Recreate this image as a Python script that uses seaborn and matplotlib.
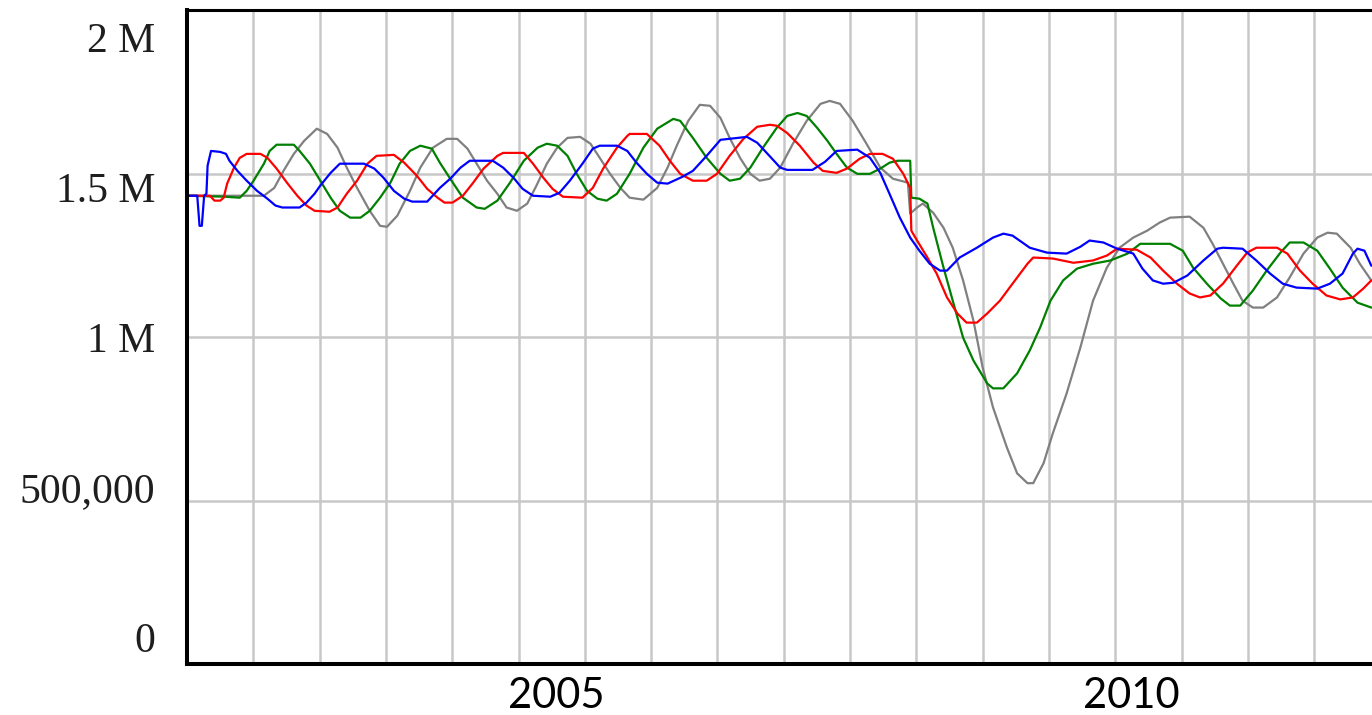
import numpy as np
import pandas as pd
import seaborn as sns
import matplotlib.pyplot as plt

# values: time in years, values in millions
blue_t = [2001.79, 2001.88, 2001.89, 2001.90, 2001.92, 2001.94, 2001.96, 2001.97, 2002.00, 2002.08,
          2002.13, 2002.16, 2002.23, 2002.31, 2002.40, 2002.49, 2002.56, 2002.62, 2002.77, 2002.83,
          2002.90, 2002.95, 2003.04, 2003.12, 2003.33, 2003.42, 2003.50, 2003.59, 2003.68, 2003.75,
          2003.88, 2003.99, 2004.08, 2004.17, 2004.25, 2004.45, 2004.54, 2004.63, 2004.71, 2004.80,
          2004.95, 2005.03, 2005.12, 2005.23, 2005.32, 2005.38, 2005.53, 2005.62, 2005.70, 2005.79,
          2005.88, 2005.97, 2006.10, 2006.19, 2006.31, 2006.43, 2006.66, 2006.75, 2006.84, 2006.95,
          2007.01, 2007.23, 2007.34, 2007.44, 2007.62, 2007.73, 2007.82, 2007.90, 2007.99, 2008.08,
          2008.16, 2008.25, 2008.34, 2008.40, 2008.51, 2008.66, 2008.80, 2008.89, 2008.97, 2009.12,
          2009.27, 2009.44, 2009.56, 2009.64, 2009.76, 2009.88, 2010.02, 2010.10, 2010.19, 2010.28,
          2010.37, 2010.49, 2010.63, 2010.75, 2010.80, 2010.97, 2011.09, 2011.21, 2011.32, 2011.44,
          2011.62, 2011.73, 2011.84, 2011.93, 2011.97, 2012.03, 2012.09]
blue_v = [1.432, 1.432, 1.386, 1.340, 1.340, 1.432, 1.438, 1.524, 1.569, 1.566,
          1.560, 1.539, 1.508, 1.478, 1.447, 1.423, 1.402, 1.396, 1.396, 1.411,
          1.438, 1.463, 1.502, 1.530, 1.530, 1.515, 1.487, 1.447, 1.423, 1.414,
          1.414, 1.456, 1.484, 1.518, 1.539, 1.539, 1.518, 1.487, 1.453, 1.432,
          1.429, 1.441, 1.478, 1.530, 1.576, 1.585, 1.585, 1.569, 1.533, 1.499,
          1.472, 1.469, 1.490, 1.508, 1.554, 1.603, 1.612, 1.594, 1.560, 1.518,
          1.511, 1.511, 1.536, 1.569, 1.573, 1.548, 1.502, 1.438, 1.365, 1.304,
          1.264, 1.224, 1.203, 1.203, 1.243, 1.273, 1.304, 1.316, 1.310, 1.273,
          1.258, 1.255, 1.276, 1.295, 1.289, 1.270, 1.255, 1.209, 1.173, 1.163,
          1.166, 1.188, 1.234, 1.270, 1.273, 1.270, 1.234, 1.194, 1.163, 1.151,
          1.148, 1.163, 1.194, 1.255, 1.270, 1.264, 1.218]

red_t = [2001.79, 2001.99, 2002.03, 2002.08, 2002.11, 2002.14, 2002.20, 2002.25, 2002.31, 2002.43,
         2002.49, 2002.57, 2002.66, 2002.75, 2002.83, 2002.90, 2003.03, 2003.10, 2003.18, 2003.27,
         2003.36, 2003.44, 2003.59, 2003.68, 2003.79, 2003.88, 2003.97, 2004.03, 2004.10, 2004.19,
         2004.28, 2004.37, 2004.49, 2004.54, 2004.72, 2004.80, 2004.89, 2004.97, 2005.06, 2005.23,
         2005.32, 2005.41, 2005.53, 2005.62, 2005.64, 2005.79, 2005.90, 2005.99, 2006.08, 2006.19,
         2006.31, 2006.40, 2006.51, 2006.63, 2006.75, 2006.86, 2006.92, 2007.01, 2007.12, 2007.24,
         2007.32, 2007.44, 2007.53, 2007.64, 2007.73, 2007.84, 2007.93, 2008.02, 2008.08, 2008.09,
         2008.14, 2008.23, 2008.31, 2008.40, 2008.49, 2008.57, 2008.66, 2008.75, 2008.86, 2008.97,
         2009.10, 2009.15, 2009.32, 2009.50, 2009.67, 2009.79, 2009.88, 2010.05, 2010.17, 2010.28,
         2010.40, 2010.51, 2010.60, 2010.69, 2010.80, 2010.92, 2011.01, 2011.09, 2011.27, 2011.36,
         2011.47, 2011.58, 2011.70, 2011.82, 2011.93, 2012.02, 2012.09]
red_v = [1.432, 1.432, 1.417, 1.417, 1.426, 1.469, 1.518, 1.548, 1.560, 1.560,
         1.548, 1.515, 1.472, 1.432, 1.402, 1.386, 1.383, 1.396, 1.438, 1.478,
         1.530, 1.554, 1.557, 1.533, 1.493, 1.453, 1.426, 1.411, 1.411, 1.432,
         1.472, 1.515, 1.554, 1.563, 1.563, 1.530, 1.487, 1.453, 1.429, 1.426,
         1.456, 1.515, 1.579, 1.615, 1.621, 1.621, 1.585, 1.539, 1.499, 1.478,
         1.478, 1.499, 1.554, 1.606, 1.643, 1.649, 1.646, 1.624, 1.585, 1.533,
         1.508, 1.502, 1.515, 1.545, 1.560, 1.560, 1.545, 1.499, 1.456, 1.325,
         1.295, 1.243, 1.194, 1.121, 1.072, 1.044, 1.044, 1.072, 1.111, 1.163,
         1.224, 1.243, 1.240, 1.227, 1.234, 1.249, 1.270, 1.267, 1.243, 1.203,
         1.163, 1.133, 1.121, 1.127, 1.163, 1.218, 1.258, 1.273, 1.273, 1.255,
         1.203, 1.163, 1.127, 1.115, 1.121, 1.148, 1.173]

green_t = [2001.79, 2002.12, 2002.25, 2002.31, 2002.37, 2002.46, 2002.51, 2002.57, 2002.72, 2002.77,
           2002.86, 2002.95, 2003.04, 2003.12, 2003.21, 2003.30, 2003.38, 2003.47, 2003.56, 2003.64,
           2003.73, 2003.82, 2003.92, 2003.99, 2004.08, 2004.19, 2004.31, 2004.38, 2004.49, 2004.60,
           2004.72, 2004.84, 2004.92, 2005.01, 2005.10, 2005.18, 2005.27, 2005.36, 2005.44, 2005.53,
           2005.64, 2005.76, 2005.88, 2006.02, 2006.08, 2006.19, 2006.31, 2006.43, 2006.51, 2006.60,
           2006.69, 2006.80, 2006.92, 2007.01, 2007.10, 2007.18, 2007.27, 2007.36, 2007.44, 2007.53,
           2007.62, 2007.73, 2007.82, 2007.90, 2007.97, 2008.08, 2008.09, 2008.16, 2008.23, 2008.28,
           2008.37, 2008.45, 2008.54, 2008.63, 2008.75, 2008.80, 2008.89, 2009.01, 2009.12, 2009.21,
           2009.30, 2009.41, 2009.53, 2009.67, 2009.82, 2009.97, 2010.08, 2010.34, 2010.45, 2010.54,
           2010.66, 2010.78, 2010.86, 2010.95, 2011.06, 2011.18, 2011.30, 2011.38, 2011.50, 2011.62,
           2011.73, 2011.84, 2011.97, 2012.09]
green_v = [1.432, 1.429, 1.426, 1.447, 1.478, 1.530, 1.569, 1.588, 1.588, 1.569,
           1.530, 1.478, 1.426, 1.386, 1.365, 1.365, 1.386, 1.426, 1.472, 1.530,
           1.569, 1.585, 1.576, 1.533, 1.484, 1.426, 1.396, 1.392, 1.417, 1.472,
           1.539, 1.579, 1.591, 1.585, 1.554, 1.499, 1.447, 1.423, 1.417, 1.438,
           1.499, 1.579, 1.637, 1.667, 1.661, 1.609, 1.548, 1.499, 1.478, 1.484,
           1.518, 1.579, 1.640, 1.676, 1.685, 1.676, 1.640, 1.600, 1.560, 1.518,
           1.499, 1.499, 1.515, 1.533, 1.539, 1.539, 1.426, 1.423, 1.408, 1.334,
           1.212, 1.111, 0.998, 0.928, 0.858, 0.843, 0.843, 0.889, 0.959, 1.029,
           1.111, 1.173, 1.209, 1.224, 1.234, 1.255, 1.285, 1.285, 1.264, 1.212,
           1.163, 1.118, 1.096, 1.096, 1.142, 1.203, 1.258, 1.289, 1.289, 1.264,
           1.209, 1.151, 1.105, 1.090]

gray_t = [2001.79, 2002.46, 2002.55, 2002.63, 2002.72, 2002.81, 2002.92, 2003.01, 2003.10, 2003.18,
          2003.27, 2003.38, 2003.47, 2003.53, 2003.62, 2003.73, 2003.82, 2003.93, 2004.05, 2004.14,
          2004.23, 2004.31, 2004.40, 2004.49, 2004.57, 2004.66, 2004.75, 2004.83, 2004.92, 2005.01,
          2005.10, 2005.21, 2005.30, 2005.38, 2005.47, 2005.56, 2005.64, 2005.76, 2005.88, 2005.97,
          2006.05, 2006.15, 2006.25, 2006.34, 2006.43, 2006.51, 2006.60, 2006.69, 2006.77, 2006.86,
          2006.95, 2007.06, 2007.18, 2007.30, 2007.38, 2007.47, 2007.58, 2007.70, 2007.82, 2007.93,
          2008.06, 2008.08, 2008.14, 2008.19, 2008.28, 2008.37, 2008.45, 2008.54, 2008.63, 2008.71,
          2008.80, 2008.92, 2009.01, 2009.10, 2009.15, 2009.24, 2009.32, 2009.44, 2009.56, 2009.67,
          2009.79, 2009.90, 2010.02, 2010.14, 2010.25, 2010.34, 2010.51, 2010.63, 2010.71, 2010.80,
          2010.89, 2010.97, 2011.06, 2011.15, 2011.27, 2011.38, 2011.50, 2011.62, 2011.71, 2011.79,
          2011.91, 2011.99, 2012.09]
gray_v = [1.432, 1.432, 1.456, 1.508, 1.560, 1.600, 1.637, 1.621, 1.579, 1.518,
          1.456, 1.386, 1.340, 1.337, 1.371, 1.447, 1.518, 1.579, 1.606, 1.606,
          1.576, 1.530, 1.478, 1.438, 1.396, 1.386, 1.408, 1.463, 1.530, 1.579,
          1.609, 1.612, 1.591, 1.548, 1.499, 1.456, 1.426, 1.420, 1.456, 1.518,
          1.585, 1.661, 1.710, 1.707, 1.670, 1.609, 1.548, 1.499, 1.478, 1.484,
          1.518, 1.591, 1.661, 1.713, 1.722, 1.713, 1.661, 1.591, 1.518, 1.484,
          1.472, 1.377, 1.396, 1.408, 1.380, 1.334, 1.273, 1.173, 1.050, 0.907,
          0.785, 0.663, 0.583, 0.553, 0.553, 0.614, 0.705, 0.827, 0.968, 1.111,
          1.212, 1.273, 1.304, 1.325, 1.350, 1.365, 1.368, 1.334, 1.285, 1.224,
          1.163, 1.111, 1.090, 1.090, 1.121, 1.182, 1.255, 1.304, 1.319, 1.316,
          1.273, 1.224, 1.173]

y_tick_values = [0, 500000, 1000000, 1500000, 2000000]
y_tick_labels = ["0", "500,000", "1 M", "1.5 M", "2 M"]
x_tick_years = [2005, 2010]

series_colors = {"gray": "#808080", "green": "#008000", "red": "#ff0000", "blue": "#0000ff"}

frames = []
for name, t, v in [("gray", gray_t, gray_v), ("green", green_t, green_v),
                   ("red", red_t, red_v), ("blue", blue_t, blue_v)]:
    frames.append(pd.DataFrame({"series": name, "year": t, "value": np.array(v) * 1e6}))
df = pd.concat(frames, ignore_index=True)

sns.set_style("white")
plt.rcParams["font.family"] = ["Lato", "DejaVu Sans"]

fig = plt.figure(figsize=(13.72, 7.15), dpi=100)
ax = fig.add_axes([187 / 1372, 51 / 715, 1185 / 1372, 654 / 715])

sns.lineplot(data=df, x="year", y="value", hue="series", hue_order=list(series_colors),
             palette=series_colors, estimator=None, sort=False, linewidth=1.6,
             legend=False, ax=ax, zorder=3)

x_start, x_end = 2001.791, 2012.096
ax.set_xlim(x_start, x_end)
ax.set_ylim(0, 2000000)

# vertical grid of the source chart does not line up with the year labels
grid_step = 0.5766
ax.set_xticks(x_start + grid_step * np.arange(1, 18), minor=True)
ax.set_xticks(x_tick_years)
ax.set_xticklabels([str(y) for y in x_tick_years], fontsize=30, color="black")
ax.grid(which="minor", axis="x", color="#c8c8c8", linewidth=1.8, zorder=0)
ax.set_yticks(y_tick_values)
ax.set_yticklabels([])
ax.grid(which="major", axis="y", color="#c8c8c8", linewidth=1.8, zorder=0)
ax.grid(which="major", axis="x", visible=False)
ax.tick_params(axis="both", which="both", length=0)
ax.tick_params(axis="x", pad=9)
ax.set_xlabel("")
ax.set_ylabel("")

# value labels sit slightly compressed against the grid, as in the source image
for val, lab in zip(y_tick_values, y_tick_labels):
    frac = 0.0184 + 0.9174 * val / 2000000
    ax.text(-32 / 1185, frac, lab, transform=ax.transAxes, ha="right", va="baseline",
            fontsize=30, family=["Liberation Serif", "DejaVu Serif"], color="#1e1e1e")

for side in ["left", "bottom"]:
    ax.spines[side].set_linewidth(2.9)
    ax.spines[side].set_color("black")
ax.spines["top"].set_linewidth(2.2)
ax.spines["top"].set_color("black")
ax.spines["right"].set_visible(False)
for s in ax.spines.values():
    s.set_zorder(4)

fig.savefig("out.png", dpi=100)
